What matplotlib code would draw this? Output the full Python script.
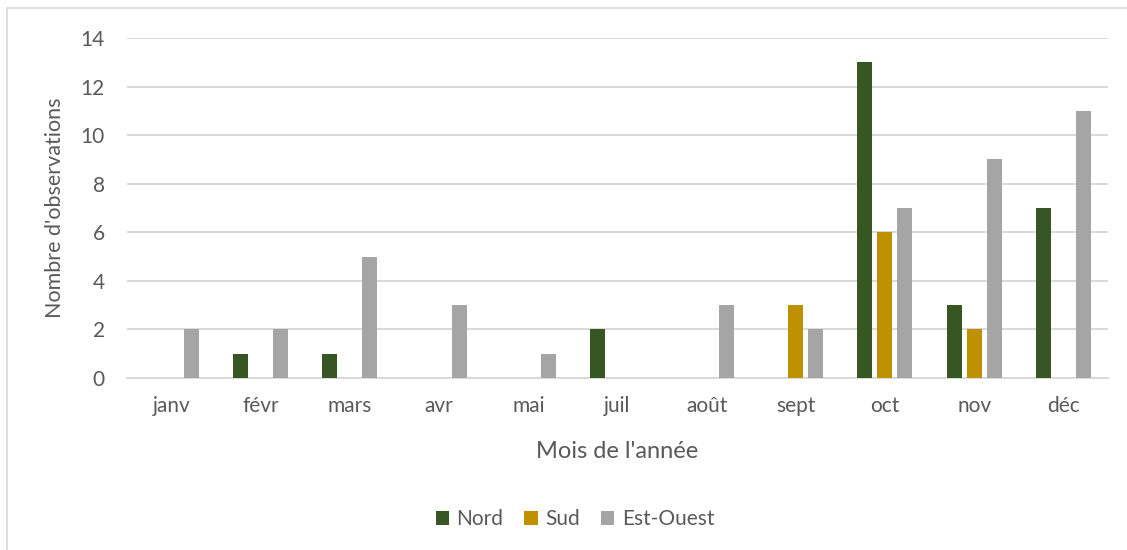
import numpy as np
import matplotlib
matplotlib.use("Agg")
import matplotlib.pyplot as plt
from matplotlib.patches import Rectangle

# Observations per month and direction
mois = ["janv", "févr", "mars", "avr", "mai", "juil", "août", "sept", "oct", "nov", "déc"]
nord = [0, 1, 1, 0, 0, 2, 0, 0, 13, 3, 7]
sud = [0, 0, 0, 0, 0, 0, 0, 3, 6, 2, 0]
est_ouest = [2, 2, 5, 3, 1, 0, 3, 2, 7, 9, 11]

series = [("Nord", nord, "#375623"), ("Sud", sud, "#BF9000"), ("Est-Ouest", est_ouest, "#A5A5A5")]
txt = "#595959"

plt.rcParams["font.family"] = ["Lato", "DejaVu Sans"]

fig = plt.figure(figsize=(11.27, 5.5), dpi=100)
ax = fig.add_axes([0.1127, 0.3127, 0.8703, 0.6182])

# chart frame
fig.patches.append(Rectangle((7 / 1127, -0.1), 1.2, 1 - 8 / 550 + 0.1, transform=fig.transFigure,
                             fill=False, edgecolor="#DDDDDD", linewidth=1.3))

x = np.arange(len(mois))
w = 0.168
step = 0.224
for i, (name, vals, col) in enumerate(series):
    ax.bar(x + (i - 1) * step, vals, width=w, color=col, label=name, zorder=3)

ax.set_xlim(-0.5, len(mois) - 0.5)
ax.set_ylim(0, 14)
ax.set_yticks(range(0, 15, 2))
ax.set_xticks(x)
ax.set_xticklabels(mois)
ax.grid(axis="y", color="#D9D9D9", linewidth=1.4, zorder=0)
for s in ["top", "right", "left"]:
    ax.spines[s].set_visible(False)
ax.spines["bottom"].set_color("#D9D9D9")
ax.spines["bottom"].set_linewidth(1.4)
ax.tick_params(length=0, labelsize=15, colors=txt)
ax.tick_params(axis="x", pad=13)
ax.tick_params(axis="y", pad=16)

ax.set_xlabel("Mois de l'année", fontsize=17, color=txt, labelpad=18)
ax.set_ylabel("Nombre d'observations", fontsize=15.5, color=txt, labelpad=11)

fig.legend(loc="center", bbox_to_anchor=(575 / 1127, 1 - 519 / 550), ncol=3, frameon=False,
           fontsize=15, labelcolor=txt, handlelength=0.65, handleheight=0.65,
           handletextpad=0.35, columnspacing=1.0)

fig.savefig("out.png", dpi=100)
